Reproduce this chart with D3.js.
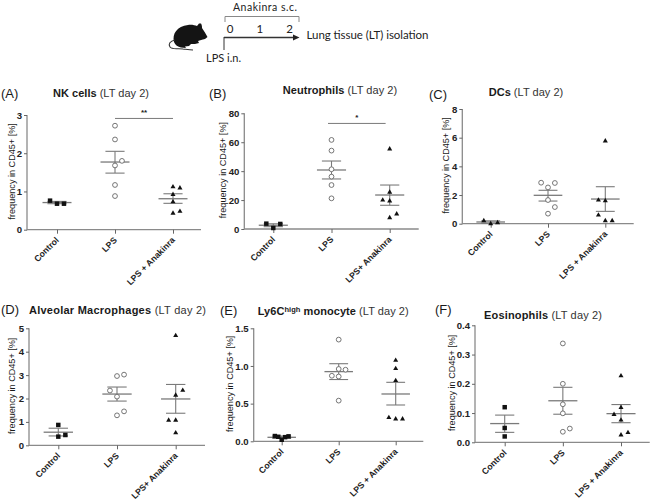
<!DOCTYPE html>
<html><head><meta charset="utf-8">
<script src="https://cdn.jsdelivr.net/npm/d3@7"></script>
<style>
html,body{margin:0;padding:0;background:#fff}
svg{display:block}
text{font-family:"Liberation Sans",Arial,sans-serif;fill:#1a1a1a}
text.sch{font-family:Lato,"Open Sans",sans-serif;fill:#222}
</style></head><body>
<div id="chart"></div>
<script>
const categoriesNK=["Control","LPS","LPS + Anakinra"];
const categoriesPlus=["Control","LPS","LPS+ Anakinra"];

const nkValues=[[0.76,0.68,0.68],[2.72,2.36,1.80,1.68,1.17,0.88],[1.12,1.09,0.92,0.73,0.48,0.43]];
const nkSlots=[[-1,0,1],[0,0,1,0,0,0],[0,1,0,0,1,0]];
const nkMean=[0.71,1.77,0.81], nkHi=[0.74,2.05,0.94], nkLo=[0.68,1.48,0.69];

const neuValues=[[3.7,0.7,3.5],[61.6,54.2,41.3,36.2,30.4,21.2],[55.3,25.4,20,19.4,10.4,7.8]];
const neuSlots=[[-1,0,1],[0,0,0,0,0,0],[0,0,-1,0,1,0]];
const neuMean=[2.6,40.8,23.5], neuHi=[3.6,47,30.4], neuLo=[1.6,34.6,16.4];

const dcValues=[[0.21,0,0.07],[2.86,2.84,2.53,1.65,1.16,0.70],[5.77,1.65,1.6,0.6,0.21,0.21]];
const dcSlots=[[-1,0,1],[-1,1,0,0,1,0],[0,-1,0,-1,0,1]];
const dcMean=[0.12,1.98,1.72], dcHi=[0.2,2.33,2.58], dcLo=[0.03,1.58,0.86];

const amValues=[[0.87,0.44,0.37],[3.02,2.96,2.34,2.08,1.45,1.28],[4.69,2.35,2.14,1.07,1.07,0.53]];
const amSlots=[[0,1,0],[1,0,-1,0,1,0],[0,1,0,-1,0,0]];
const amMean=[0.56,2.19,1.98], amHi=[0.73,2.49,2.6], amLo=[0.40,1.89,1.37];

const lyValues=[[0.07,0.066,0.06,0.055,0.02],[1.35,0.96,0.95,0.87,0.86,0.54],[1.075,0.965,0.805,0.314,0.296,0.296]];
const lySlots=[[-1,1,-0.5,0.5,0],[0,0,1,-1,0,0],[0,0,0,-1,0,1]];
const lyMean=[0.053,0.925,0.628], lyHi=[0.07,1.03,0.783], lyLo=[0.04,0.82,0.482];

const eoValues=[[0.12,0.049,0.02],[0.338,0.2,0.13,0.099,0.047,0.036],[0.227,0.119,0.095,0.076,0.033,0.025]];
const eoSlots=[[0,0,0],[0,0,0,0,1,0],[0,0,-1,0,1,0]];
const eoMean=[0.064,0.142,0.098], eoHi=[0.093,0.188,0.129], eoLo=[0.034,0.096,0.067];

const nkTicks=[0,1,2,3], neuTicks=[0,20,40,60,80], dcTicks=[0,2,4,6,8];
const amTicks=[0,1,2,3,4,5], lyTicks=[0,0.5,1.0,1.5], eoTicks=[0,0.1,0.2,0.3,0.4];

const svg=d3.select("#chart").append("svg").attr("width",650).attr("height",501);
const gray="#7a7a7a", axisGray="#8a8a8a";

const panels=[
 {tag:"(A)",tagX:1,tagY:98,bold:"NK cells",rest:" (LT day 2)",tx:53,ty:97,tw:96,
  cats:categoriesNK,v:nkValues,s:nkSlots,m:nkMean,hi:nkHi,lo:nkLo,ticks:nkTicks,fmt:d3.format("d"),
  box:[27,229.7,201,115],xc:[57,115,173],yMax:3,ylab:12,shapes:["s","c","t"],
  bar:{y:2.91,a:1,b:2,star:"**"}},
 {tag:"(B)",tagX:209,tagY:98,bold:"Neutrophils",rest:" (LT day 2)",tx:282.7,ty:94,tw:114.5,
  cats:categoriesPlus,v:neuValues,s:neuSlots,m:neuMean,hi:neuHi,lo:neuLo,ticks:neuTicks,fmt:d3.format("d"),
  box:[244.3,229,418.7,113.3],xc:[273.3,331.7,389.7],yMax:80,ylab:223,shapes:["s","c","t"],
  bar:{y:73,a:0.94,b:1.93,star:"*"}},
 {tag:"(C)",tagX:429,tagY:99,bold:"DCs",rest:" (LT day 2)",tx:488.7,ty:96,tw:74.5,
  cats:categoriesNK,v:dcValues,s:dcSlots,m:dcMean,hi:dcHi,lo:dcLo,ticks:dcTicks,fmt:d3.format("d"),
  box:[462.3,223.7,633.7,109],xc:[490.7,548,605.3],yMax:8,ylab:446,shapes:["t","c","t"]},
 {tag:"(D)",tagX:1,tagY:314,bold:"Alveolar Macrophages",rest:" (LT day 2)",tx:29,ty:314,tw:177,
  cats:categoriesPlus,v:amValues,s:amSlots,m:amMean,hi:amHi,lo:amLo,ticks:amTicks,fmt:d3.format("d"),
  box:[29,445.3,205,328.3],xc:[58.3,117,175.7],yMax:5,ylab:12,shapes:["s","c","t"]},
 {tag:"(E)",tagX:220,tagY:315,bold:"Ly6C",sup:"high",bold2:" monocyte",rest:" (LT day 2)",tx:257.7,ty:315,tw:151,
  cats:categoriesNK,v:lyValues,s:lySlots,m:lyMean,hi:lyHi,lo:lyLo,ticks:lyTicks,fmt:d3.format(".1f"),
  box:[253.7,441.3,423.3,328.3],xc:[281.7,338.7,395.7],yMax:1.5,ylab:230,shapes:["s","c","t"]},
 {tag:"(F)",tagX:435,tagY:314,bold:"Eosinophils",rest:" (LT day 2)",tx:484,ty:319,tw:118,
  cats:categoriesNK,v:eoValues,s:eoSlots,m:eoMean,hi:eoHi,lo:eoLo,ticks:eoTicks,fmt:d3.format(".1f"),
  box:[475,442.3,649.7,325.3],xc:[504.7,562.7,621],yMax:0.4,ylab:452,shapes:["s","c","t"]}
];

const tri=d3.symbol().type(d3.symbolTriangle).size(11);
const sq=d3.symbol().type(d3.symbolSquare).size(20);

panels.forEach(p=>{
  const [x0,y0,x1,y1]=p.box;
  const g=svg.append("g");
  const x=d3.scaleLinear().domain([0,2]).range([p.xc[0],p.xc[2]]);
  const y=d3.scaleLinear().domain([0,p.yMax]).range([y0,y1]);

  const ax=g.append("g").attr("transform",`translate(${x0},0)`)
    .call(d3.axisLeft(y).tickValues(p.ticks).tickFormat(p.fmt).tickSize(3).tickPadding(2));
  const bx=g.append("g").attr("transform",`translate(0,${y0})`)
    .call(d3.axisBottom(x).tickValues([0,1,2]).tickFormat(i=>p.cats[i]).tickSize(4).tickPadding(2));
  ax.select(".domain").attr("stroke",axisGray).attr("stroke-width",1.3).attr("d",`M0,${y0+0.5}V${y1}`);
  bx.select(".domain").attr("stroke",axisGray).attr("stroke-width",1.3).attr("d",`M${x0},0H${x1}`);
  g.selectAll(".tick line").attr("stroke","#666").attr("stroke-width",1);
  ax.selectAll("text").attr("font-size",9.6).attr("font-weight","bold").style("fill","#222");
  bx.selectAll("text").attr("font-size",8.7).attr("font-weight","bold").style("fill","#222")
    .attr("text-anchor","end")
    .attr("dx",0).attr("dy",0).attr("y",0).attr("x",0)
    .attr("transform","translate(2,11) rotate(-45)");

  g.append("text").attr("font-size",9.1).attr("text-anchor","middle").attr("fill","#222")
    .attr("transform",`translate(${p.ylab+3},${(y0+y1)/2-1}) rotate(-90)`)
    .text("frequency in CD45+ [%]");

  const hw=0.25, cw=0.165;
  p.m.forEach((m,i)=>{
    const gg=g.append("g").attr("stroke",gray).attr("stroke-width",1.1).attr("fill","none");
    gg.append("line").attr("x1",x(i-hw)).attr("x2",x(i+hw)).attr("y1",y(m)).attr("y2",y(m)).attr("stroke-width",1.3);
    gg.append("line").attr("x1",x(i)).attr("x2",x(i)).attr("y1",y(p.hi[i])).attr("y2",y(p.lo[i]));
    [p.hi[i],p.lo[i]].forEach(e=>gg.append("line").attr("x1",x(i-cw)).attr("x2",x(i+cw)).attr("y1",y(e)).attr("y2",y(e)));
  });

  p.v.forEach((vals,i)=>{
    const shape=p.shapes[i];
    vals.forEach((v,j)=>{
      const cx=x(i+p.s[i][j]*0.12), cy=y(v);
      if(shape==="c") g.append("circle").attr("cx",cx).attr("cy",cy).attr("r",2.4)
        .attr("fill","#fff").attr("stroke","#666").attr("stroke-width",0.9);
      else g.append("path").attr("d",shape==="s"?sq():tri()).attr("fill","#111")
        .attr("transform",`translate(${cx},${cy})`);
    });
  });

  if(p.bar){
    g.append("line").attr("x1",x(p.bar.a)).attr("x2",x(p.bar.b)).attr("y1",y(p.bar.y)).attr("y2",y(p.bar.y))
      .attr("stroke",gray).attr("stroke-width",1);
    g.append("text").attr("x",x((p.bar.a+p.bar.b)/2)).attr("y",y(p.bar.y)-3).attr("text-anchor","middle")
      .attr("font-size",8).attr("font-weight","bold").text(p.bar.star);
  }

  g.append("text").attr("x",p.tagX).attr("y",p.tagY).attr("font-size",13).text(p.tag);
  const t=g.append("text").attr("x",p.tx).attr("y",p.ty).attr("font-size",11).attr("textLength",p.tw).attr("lengthAdjust","spacing");
  t.append("tspan").attr("font-weight","bold").text(p.bold);
  if(p.sup){
    t.append("tspan").attr("font-weight","bold").attr("font-size",7.5).attr("dy",-3.5).text(p.sup);
    t.append("tspan").attr("font-weight","bold").attr("dy",3.5).text(p.bold2);
  }
  t.append("tspan").style("fill","#333").text(p.rest);
});

// experimental scheme
const sch=svg.append("g");
const timeline=[0,1,2];
const tx=d3.scaleLinear().domain([0,2]).range([230,289.5]);
sch.append("path").attr("d","M225,22V16.5H299V22").attr("fill","none").attr("stroke","#888").attr("stroke-width",1);
sch.append("text").attr("class","sch").attr("x",233).attr("y",10.5).attr("font-size",10.5).attr("textLength",64).text("Anakinra s.c.");
sch.selectAll(".n").data(timeline).join("text").attr("class","sch").attr("text-anchor","middle")
  .attr("x",d=>tx(d)).attr("y",32.5).attr("font-size",11.5).text(d=>d);
sch.append("path").attr("d","M224,37.5H294").attr("stroke","#333").attr("stroke-width",1.3).attr("fill","none");
sch.append("path").attr("d","M293,34.5L299.5,37.5L293,40.5Z").attr("fill","#222");
sch.append("path").attr("d","M224,37V50").attr("stroke","#333").attr("stroke-width",1).attr("fill","none");
sch.append("text").attr("class","sch").attr("x",206).attr("y",62).attr("font-size",11).attr("textLength",35).text("LPS i.n.");
sch.append("text").attr("class","sch").attr("x",306.5).attr("y",39).attr("font-size",11.5).attr("textLength",122).text("Lung tissue (LT) isolation");
sch.append("path").attr("fill","#141414").attr("d","M174,42 C172,34 177,26 188,25 C192,24.5 195,25.5 197,26 L199,23.5 L201,23.5 C202,25 202,27 202,28 C204,31 206,34 207.5,37 L205,39 C202,40 200,40 198,41 L199,43 L195,44 L191,44 L189,46 L185,46.5 L186,48 L181,47.5 C178,47 175,45 174,42 Z");
sch.append("path").attr("fill","none").attr("stroke","#333").attr("stroke-width",1.1).attr("d","M175,40 C170,41 168,44 170,47 C172,50 178,48 183,49 C187,49.5 190,50 193,50");
</script>
</body></html>
